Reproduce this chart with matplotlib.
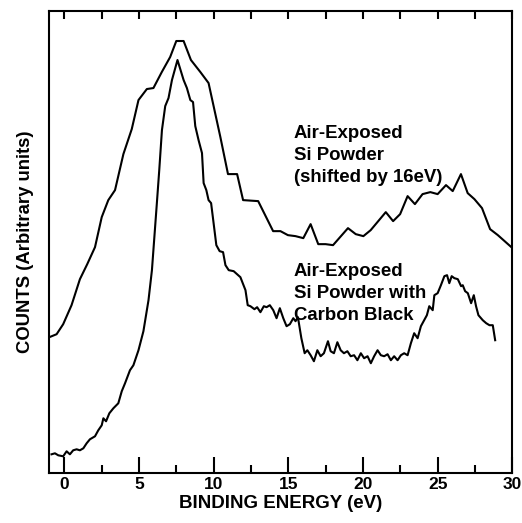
import matplotlib
matplotlib.use("Agg")
import matplotlib.pyplot as plt
from matplotlib.ticker import MultipleLocator

plt.rcParams['font.family'] = ['Liberation Sans', 'DejaVu Sans']
plt.rcParams['font.weight'] = 'bold'

# Air-exposed Si powder (shifted by 16 eV)
si_energy = [-1.0, -0.51, -0.07, 0.49, 1.05, 1.54, 2.06, 2.51, 2.95, 3.40, 3.96, 4.52,
             4.97, 5.53, 5.97, 6.53, 7.09, 7.50, 7.99, 8.48, 9.11, 9.66, 10.45, 10.96,
             11.57, 11.97, 12.98, 13.98, 14.47, 14.97, 15.48, 16.0, 16.49, 17.0, 17.49,
             17.99, 18.99, 19.51, 20.02, 20.51, 21.52, 22.01, 22.48, 22.98, 23.47, 23.98,
             24.50, 24.99, 25.55, 26.0, 26.55, 27.0, 27.45, 27.96, 28.50, 29.02, 30.0]
si_counts = [136, 139, 149, 168, 194, 209, 226, 256, 273, 283, 319, 344,
             373, 384, 385, 401, 416, 432, 432, 413, 401, 390, 336, 299,
             299, 273, 272, 242, 242, 238, 237, 235, 249, 229, 229,
             228, 245, 239, 237, 243, 261, 252, 259, 277, 269, 279,
             281, 279, 288, 282, 299, 280, 274, 265, 244, 238, 225]

# Air-exposed Si powder with carbon black
cb_energy = [-0.85, -0.62, -0.40, -0.07, 0.16, 0.38, 0.60, 0.83, 1.05, 1.28, 1.50, 1.72,
             2.06, 2.28, 2.51, 2.62, 2.80, 3.02, 3.29, 3.62, 3.85, 4.07, 4.40, 4.63,
             4.97, 5.30, 5.53, 5.64, 5.87, 6.04, 6.20, 6.36, 6.54, 6.76, 6.98, 7.21,
             7.58, 7.99, 8.21, 8.44, 8.62, 8.77, 8.99, 9.22, 9.33, 9.51, 9.66, 9.83,
             10.0, 10.18, 10.40, 10.63, 10.79, 11.01, 11.34, 11.79, 12.13, 12.28, 12.46,
             12.73, 12.91, 13.13, 13.36, 13.54, 13.76, 13.99, 14.21, 14.43, 14.66, 14.88,
             15.10, 15.33, 15.48, 15.64, 15.87, 16.09, 16.27, 16.49, 16.71, 16.94, 17.16,
             17.38, 17.65, 17.83, 18.05, 18.28, 18.50, 18.72, 18.95, 19.17, 19.40, 19.62,
             19.85, 20.07, 20.30, 20.52, 20.74, 20.97, 21.19, 21.41, 21.64, 21.86, 22.08,
             22.31, 22.53, 22.75, 22.98, 23.20, 23.42, 23.65, 23.87, 24.09, 24.27, 24.43,
             24.66, 24.77, 24.99, 25.21, 25.44, 25.62, 25.77, 25.93, 26.11, 26.34, 26.56,
             26.67, 26.83, 27.01, 27.23, 27.41, 27.56, 27.72, 28.01, 28.24, 28.46, 28.68,
             28.84]
cb_counts = [19, 20, 18, 17, 22, 19, 23, 24, 23, 25, 30, 34,
             37, 43, 48, 55, 52, 60, 65, 70, 82, 90, 103, 108,
             123, 142, 163, 173, 203, 237, 270, 303, 343, 367, 375, 393,
             413, 393, 385, 373, 371, 347, 333, 320, 290, 283, 273, 270,
             250, 228, 222, 221, 208, 203, 202, 196, 183, 168, 167,
             164, 166, 161, 167, 166, 168, 163, 155, 165, 155, 147,
             149, 155, 152, 156, 135, 120, 123, 118, 112, 123, 117,
             120, 132, 122, 120, 131, 123, 120, 122, 117, 118, 113,
             120, 115, 117, 110, 117, 123, 118, 117, 119, 113, 117,
             113, 118, 120, 118, 130, 140, 135, 147, 153, 158, 167,
             163, 178, 180, 188, 197, 198, 190, 197, 195, 194, 187,
             188, 182, 180, 170, 178, 167, 158, 153, 150, 148, 148,
             133]

xticks = [0, 5, 10, 15, 20, 25, 30]
label_si = "Air-Exposed\nSi Powder\n(shifted by 16eV)"
label_cb = "Air-Exposed\nSi Powder with\nCarbon Black"

fig = plt.figure(figsize=(5.22, 5.23), dpi=100)
ax = fig.add_axes([0.0944, 0.095, 0.8874, 0.884])

ax.plot(si_energy, si_counts, color='black', lw=1.5)
ax.plot(cb_energy, cb_counts, color='black', lw=1.5)

ax.set_xlim(-1, 30)
ax.set_ylim(0, 462)
ax.set_xticks(xticks)
ax.set_xticklabels([str(t) for t in xticks])
ax.xaxis.set_minor_locator(MultipleLocator(2.5))
ax.set_yticks([])
ax.tick_params(axis='x', which='major', direction='in', length=11.5, width=1.5,
               labelsize=12.5, pad=2.5)
ax.tick_params(axis='x', which='minor', direction='in', length=5.8, width=1.5)
for s in ax.spines.values():
    s.set_linewidth(1.5)

top = ax.secondary_xaxis('top')
top.set_xticks(xticks)
top.xaxis.set_minor_locator(MultipleLocator(2.5))
top.tick_params(axis='x', which='both', direction='in', length=5.5, width=1.5,
                labeltop=False)
top.spines['top'].set_visible(False)

ax.set_xlabel("BINDING ENERGY (eV)", fontsize=13.5, fontweight='bold', labelpad=2.5)
ax.set_ylabel("COUNTS (Arbitrary units)", fontsize=13.3, fontweight='bold', labelpad=11)

ax.text(15.35, 348, label_si, fontsize=13.4, fontweight='bold', va='top', ha='left',
        linespacing=1.38)
ax.text(15.35, 210, label_cb, fontsize=13.4, fontweight='bold', va='top', ha='left',
        linespacing=1.38)

fig.savefig("out.png", dpi=100)
